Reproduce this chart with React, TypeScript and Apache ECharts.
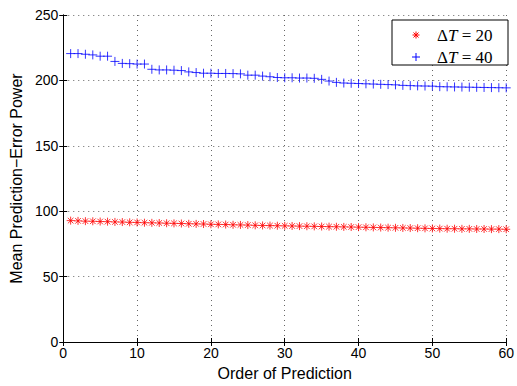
import React, { useEffect, useRef } from "react";
import * as echarts from "echarts";

const orders = Array.from({ length: 60 }, (_, i) => i + 1);
const dt20 = [
  92.8, 92.6, 92.4, 92.3, 92.1, 92.0, 91.8, 91.7, 91.5, 91.4,
  91.2, 91.1, 91.0, 90.8, 90.7, 90.6, 90.4, 90.3, 90.2, 90.0,
  89.9, 89.8, 89.6, 89.5, 89.4, 89.2, 89.1, 89.0, 88.9, 88.8,
  88.7, 88.6, 88.5, 88.4, 88.3, 88.2, 88.1, 88.0, 87.9, 87.8,
  87.7, 87.6, 87.5, 87.4, 87.3, 87.2, 87.1, 87.0, 86.9, 86.8,
  86.7, 86.6, 86.6, 86.5, 86.5, 86.4, 86.4, 86.3, 86.3, 86.2,
];
const dt40 = [
  220.5, 220.5, 220.0, 219.5, 218.5, 218.5, 214.5, 213.0, 212.8, 212.5,
  212.5, 208.5, 208.0, 208.0, 207.8, 207.5, 206.5, 206.0, 205.5, 205.5,
  205.3, 205.3, 205.2, 205.0, 204.0, 204.0, 203.3, 202.8, 202.2, 202.0,
  202.0, 201.8, 201.8, 201.6, 200.8, 199.5, 198.5, 198.0, 197.8, 197.6,
  197.4, 197.2, 197.0, 196.8, 196.6, 196.2, 196.0, 195.8, 195.7, 195.6,
  195.2, 195.1, 195.0, 194.9, 194.8, 194.7, 194.6, 194.5, 194.4, 194.3,
];
const legendLabels = ["20", "40"];
const xTicks = { min: 0, max: 60, interval: 10 };
const yTicks = { min: 0, max: 250, interval: 50 };

const ASTERISK = "path://M0,-1L0,1M-1,0L1,0M-0.7,-0.7L0.7,0.7M-0.7,0.7L0.7,-0.7";
const PLUS = "path://M0,-1L0,1M-1,0L1,0";

export default function App() {
  const ref = useRef<HTMLDivElement>(null);
  useEffect(() => {
    if (!ref.current) return;
    const chart = echarts.init(ref.current, null, { renderer: "svg" });
    const font = "'Liberation Sans', Arial, Helvetica, sans-serif";
    const baseAxis = {
      axisLine: { show: true, lineStyle: { color: "#000", width: 1 } },
      axisTick: { show: true, inside: true, length: 4, lineStyle: { color: "#000" } },
    };
    const lx = 392, ly = 20, lw = 116, lh = 45;
    const mx = 416;
    const rows = [ly + 15, ly + 37];
    const star = (cx: number, cy: number, color: string) => {
      const r = 3.5, d = 2.5;
      const segs = [
        [0, -r, 0, r], [-r, 0, r, 0], [-d, -d, d, d], [-d, d, d, -d],
      ];
      return segs.map((s) => ({
        type: "line", shape: { x1: cx + s[0], y1: cy + s[1], x2: cx + s[2], y2: cy + s[3] },
        style: { stroke: color, lineWidth: 1 }, z: 101,
      }));
    };
    const plus = (cx: number, cy: number, color: string) => [
      { type: "line", shape: { x1: cx - 4, y1: cy, x2: cx + 4, y2: cy }, style: { stroke: color, lineWidth: 1 }, z: 101 },
      { type: "line", shape: { x1: cx, y1: cy - 4, x2: cx, y2: cy + 4 }, style: { stroke: color, lineWidth: 1 }, z: 101 },
    ];
    const legendText = (y: number, val: string) => ({
      type: "text", x: 437, y, z: 101,
      style: {
        text: `{a|Δ}{b|T}{a| = ${val}}`,
        verticalAlign: "middle",
        rich: {
          a: { fontFamily: "'Liberation Serif', 'Times New Roman', serif", fontSize: 17, fill: "#000" },
          b: { fontFamily: "'Liberation Serif', 'Times New Roman', serif", fontSize: 17, fontStyle: "italic", fill: "#000" },
        },
      },
    });
    chart.setOption({
      animation: false,
      backgroundColor: "#fff",
      grid: { left: 63, right: 9, top: 15, bottom: 40 },
      xAxis: [
        {
          type: "value", ...xTicks, position: "bottom", ...baseAxis,
          name: "Order of Prediction", nameLocation: "middle", nameGap: 23,
          nameTextStyle: { color: "#000", fontFamily: font, fontSize: 16 },
          axisLabel: { color: "#000", fontFamily: font, fontSize: 14, margin: 4 },
          splitLine: { show: true, lineStyle: { color: "#666", type: [1, 4], width: 1 } },
        },
        {
          type: "value", ...xTicks, position: "top", ...baseAxis,
          axisLabel: { show: false }, splitLine: { show: false },
        },
      ],
      yAxis: [
        {
          type: "value", ...yTicks, position: "left", ...baseAxis,
          name: "Mean Prediction\u2212Error Power", nameLocation: "middle", nameGap: 38,
          nameTextStyle: { color: "#000", fontFamily: font, fontSize: 16 },
          axisLabel: { color: "#000", fontFamily: font, fontSize: 14, margin: 5 },
          splitLine: { show: true, lineStyle: { color: "#666", type: [1, 4], width: 1 } },
        },
        {
          type: "value", ...yTicks, position: "right", ...baseAxis,
          axisLabel: { show: false }, splitLine: { show: false },
        },
      ],
      series: [
        {
          type: "scatter", name: "dT20", data: orders.map((x, i) => [x, dt20[i]]),
          symbol: ASTERISK, symbolSize: 8,
          itemStyle: { color: "none", borderColor: "#ff0000", borderWidth: 1 },
        },
        {
          type: "scatter", name: "dT40", data: orders.map((x, i) => [x, dt40[i]]),
          symbol: PLUS, symbolSize: 9,
          itemStyle: { color: "none", borderColor: "#0000ff", borderWidth: 1 },
        },
      ],
      graphic: [
        { type: "rect", shape: { x: lx, y: ly, width: lw, height: lh }, style: { fill: "#fff", stroke: "#000", lineWidth: 1 }, z: 100 },
        ...star(mx, rows[0], "#ff0000"),
        ...plus(mx, rows[1], "#0000ff"),
        legendText(rows[0], legendLabels[0]),
        legendText(rows[1], legendLabels[1]),
      ],
    });
    return () => chart.dispose();
  }, []);
  return <div ref={ref} style={{ width: 517, height: 386, position: "absolute", left: 0, top: 0 }} />;
}
